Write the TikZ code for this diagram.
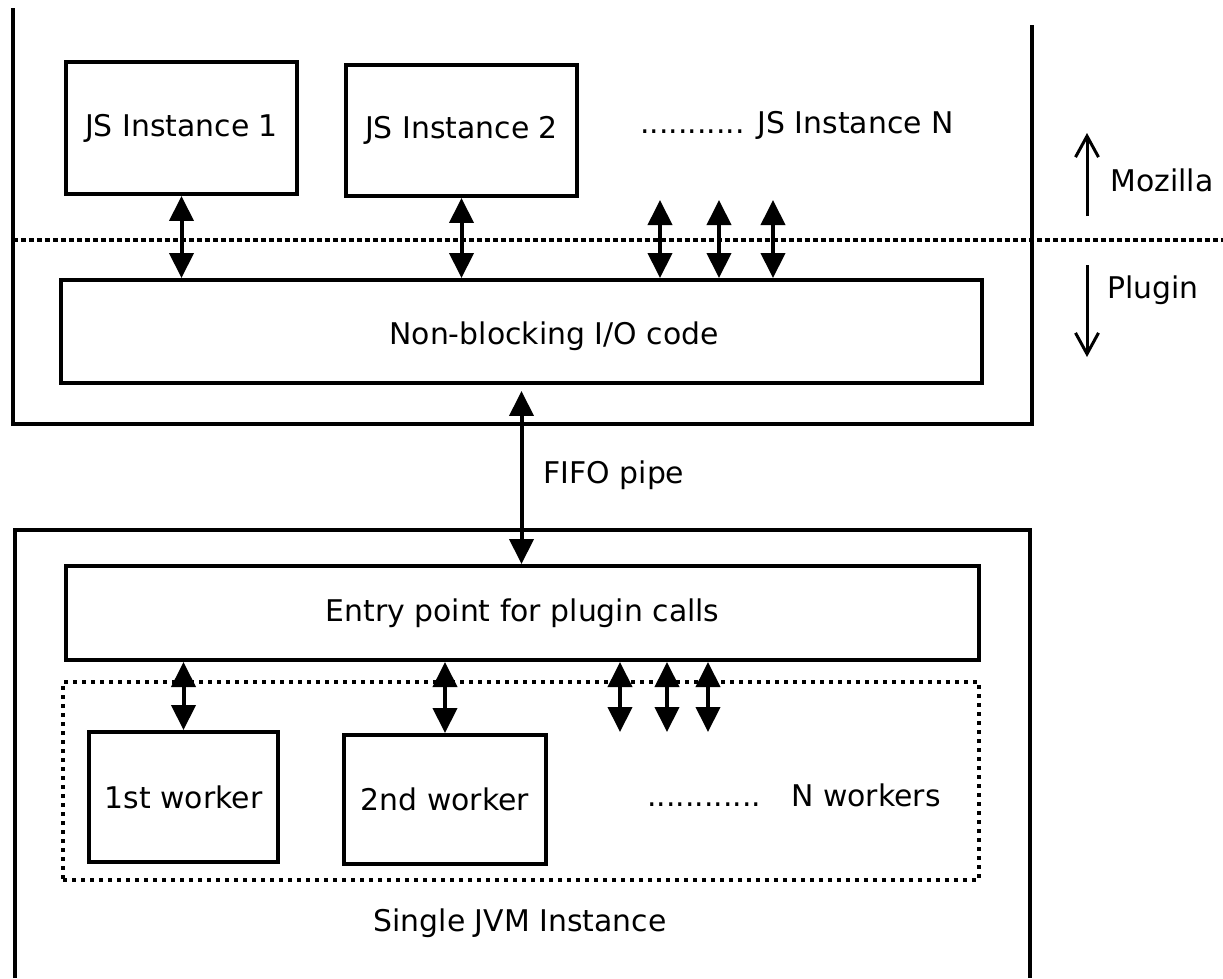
\documentclass[tikz,border=0pt]{standalone}
\usepackage{fontspec}
\setmainfont{DejaVu Sans}
\usetikzlibrary{arrows.meta}

\begin{document}
\begin{tikzpicture}[x=0.02cm,y=-0.02cm,
  every node/.style={font=\fontsize{17}{20}\selectfont},
  box/.style={draw,line width=0.08cm,inner sep=0pt},
  frame/.style={line width=0.08cm},
  link/.style={line width=0.08cm,{Triangle[length=0.5cm,width=0.48cm]}-{Triangle[length=0.5cm,width=0.48cm]}},
  side/.style={line width=0.06cm,-{Straight Barb[length=0.42cm,width=0.46cm]}}]
  \useasboundingbox (0,0) rectangle (1223,978);
  % mozilla side
  \draw[frame] (13,8) |- (1032,424) -- (1032,25);
  \draw[line width=0.065cm,dash pattern=on 0.1cm off 0.06cm] (13,240) -- (1223,240);
  \node[box,minimum width=4.62cm,minimum height=2.64cm] (js1) at (181.5,128) {JS Instance 1};
  \node[box,minimum width=4.62cm,minimum height=2.62cm] (js2) at (461.5,130.5) {JS Instance 2};
  \node (jsn) at (797,125) {........... JS Instance N};
  \node[box,minimum width=18.42cm,minimum height=2.06cm] (io) at (521.5,331.5) {};
  \node (iotxt) at (554,336) {Non-blocking I/O code};
  \draw[link] (js1.south) -- (js1.south |- io.north);
  \draw[link] (js2.south) -- (js2.south |- io.north);
  \foreach \x [count=\i] in {660,719,773} {
    \coordinate (up\i) at (\x,200);
    \draw[link] (up\i) -- (up\i |- io.north);
  }
  % layer arrows
  \coordinate (mozfoot) at (1087,216);
  \coordinate (moztip) at (1087,133);
  \draw[side] (mozfoot) -- (moztip);
  \node (moz) at (1162,180) {Mozilla};
  \coordinate (plugfoot) at (1087,265);
  \coordinate (plugtip) at (1087,357);
  \draw[side] (plugfoot) -- (plugtip);
  \node (plug) at (1153,290) {Plugin};
  % jvm side
  \draw[frame] (15,978) |- (1030,530) -- (1030,978);
  \node[box,minimum width=18.26cm,minimum height=1.88cm] (entry) at (522.5,613) {Entry point for plugin calls};
  \draw[link,shorten <=0.12cm] (io.south) -- (io.south |- entry.north);
  \node (fifo) at (614,475) {FIFO pipe};
  \node[box,dash pattern=on 0.08cm off 0.1cm,minimum width=18.32cm,minimum height=3.96cm] (pool) at (521,781) {};
  \node[box,minimum width=3.78cm,minimum height=2.6cm] (w1) at (183.5,797) {1st worker};
  \node[box,minimum width=4.04cm,minimum height=2.58cm] (w2) at (445,799.5) {2nd worker};
  \node (wn) at (794,795) {............\hspace{0.6cm}N workers};
  \draw[link] (w1.north |- entry.south) -- (w1.north);
  \draw[link] (w2.north |- entry.south) -- (w2.north);
  \foreach \x [count=\i] in {620,667,708} {
    \coordinate (dn\i) at (\x,732);
    \draw[link] (dn\i |- entry.south) -- (dn\i);
  }
  \node (jvm) at (520,923) {Single JVM Instance};
\end{tikzpicture}
\end{document}
